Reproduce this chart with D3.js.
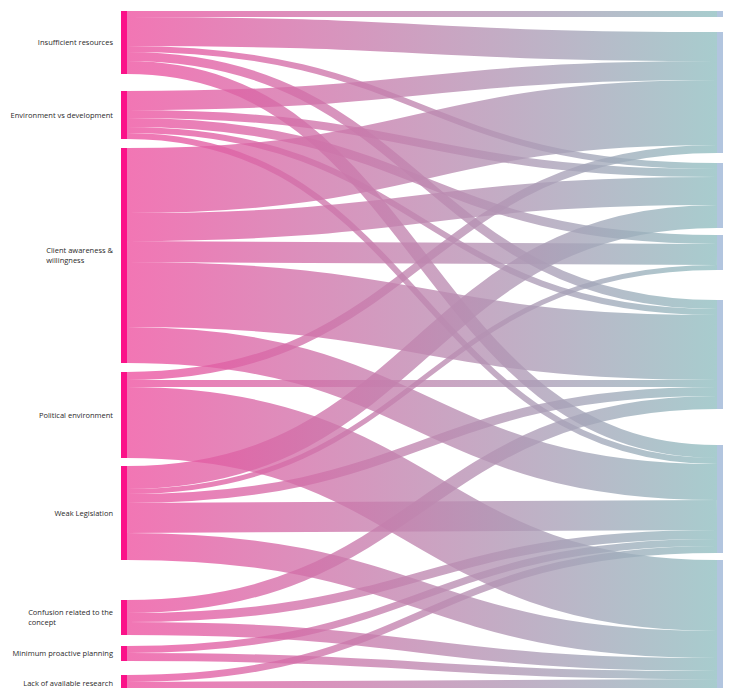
<!DOCTYPE html>
<html><head><meta charset="utf-8">
<script src="https://cdn.jsdelivr.net/npm/d3@7"></script>
<style>body{margin:0;background:#fff;overflow:hidden}</style>
</head><body>
<svg id="chart" width="733" height="688"></svg>
<script>
// ---- data ----
const leftNames = ["Insufficient resources","Environment vs development","Client awareness & willingness","Political environment","Weak Legislation","Confusion related to the concept","Minimum proactive planning","Lack of available research"];
const leftLabelLines = [["Insufficient resources"],["Environment vs development"],["Client awareness &","willingness"],["Political environment"],["Weak Legislation"],["Confusion related to the","concept"],["Minimum proactive planning"],["Lack of available research"]];
const rightNames = ["R1","R2","R3","R4","R5","R6","R7"];
const flowFrom  = [0,0,0,0,0, 1,1,1,1,1, 2,2,2,2,2, 3,3,3, 4,4,4,4,4, 5,5,5, 6,6, 7,7];
const flowTo    = [0,1,2,4,5, 1,2,3,4,5, 1,2,3,4,5, 1,4,6, 2,3,4,5,6, 4,5,6, 5,6, 5,6];
const flowValue = [6,29,6,9,13, 19,8,9,6,6, 65,28,21,65,36, 8,7,71, 23,5,9,30,27, 13,9,13, 7,8, 7,11];

// ---- layout constants ----
const leftBarX = 121, rightBarX = 717, barW = 6, topY = 11;
const leftGaps = [0,17,9,9,8,40,11,14];
const rightGaps = [0,15,10,7,30,36,7];

const svg = d3.select("#chart");
const total = d3.sum(flowValue);
const y = d3.scaleLinear().domain([0, total]).range([0, total * 1.0]);

function buildNodes(names, gaps, key) {
  let cur = topY;
  return names.map((n, i) => {
    const v = d3.sum(flowValue.filter((_, k) => (key === "from" ? flowFrom[k] : flowTo[k]) === i));
    cur += gaps[i];
    const node = {name: n, i, value: v, y0: cur, y1: cur + y(v)};
    cur = node.y1;
    return node;
  });
}
const L = buildNodes(leftNames, leftGaps, "from");
const R = buildNodes(rightNames, rightGaps, "to");

const links = flowValue.map((v, k) => ({s: flowFrom[k], t: flowTo[k], value: v, w: y(v)}));
L.forEach(n => {
  let cur = n.y0;
  links.filter(l => l.s === n.i).sort((a, b) => a.t - b.t).forEach(l => { l.sy = cur + l.w / 2; cur += l.w; });
});
R.forEach(n => {
  let cur = n.y0;
  links.filter(l => l.t === n.i).sort((a, b) => a.s - b.s).forEach(l => { l.ty = cur + l.w / 2; cur += l.w; });
});

const defs = svg.append("defs");
const grad = defs.append("linearGradient").attr("id", "lg").attr("gradientUnits", "userSpaceOnUse")
  .attr("x1", leftBarX + barW).attr("x2", rightBarX).attr("y1", 0).attr("y2", 0);
grad.append("stop").attr("offset", "0%").attr("stop-color", "#ee4f9f");
grad.append("stop").attr("offset", "100%").attr("stop-color", "#8fbec0");

const linkGen = d3.linkHorizontal().x(d => d[0]).y(d => d[1]);
svg.append("g").attr("fill", "none")
  .selectAll("path").data(links).join("path")
  .attr("d", l => linkGen({source: [leftBarX + barW, l.sy], target: [rightBarX, l.ty]}))
  .attr("stroke", "url(#lg)")
  .attr("stroke-opacity", 0.78)
  .attr("stroke-width", l => Math.max(1, l.w));

svg.append("g").selectAll("rect").data(L).join("rect")
  .attr("x", leftBarX).attr("width", barW).attr("y", d => d.y0).attr("height", d => d.y1 - d.y0)
  .attr("fill", "#fb1189");
svg.append("g").selectAll("rect").data(R).join("rect")
  .attr("x", rightBarX).attr("width", barW).attr("y", d => d.y0).attr("height", d => d.y1 - d.y0)
  .attr("fill", "#b2c5df");

const fs = 7.5, lh = 10.5;
const lg = svg.append("g").attr("font-family", "'Open Sans', 'Noto Sans', sans-serif")
  .attr("font-size", fs).attr("fill", "#2a2a2a");
L.forEach((n, i) => {
  const lines = leftLabelLines[i];
  const t = lg.append("text");
  const cy = Math.min((n.y0 + n.y1) / 2, 683);
  const y0 = cy - (lines.length - 1) * lh / 2;
  lines.forEach((s, j) => t.append("tspan").attr("y", y0 + j * lh).attr("dy", "0.35em").text(s));
  let maxW = 0;
  t.selectAll("tspan").each(function() { maxW = Math.max(maxW, this.getComputedTextLength()); });
  t.selectAll("tspan").attr("x", leftBarX - 8 - maxW);
});
</script>
</body></html>
